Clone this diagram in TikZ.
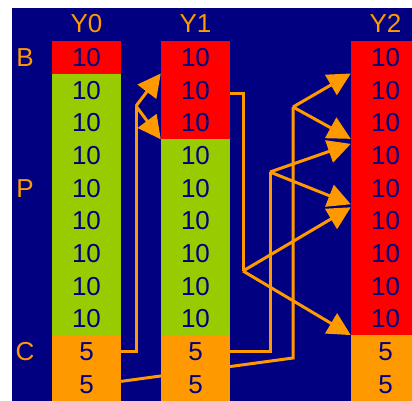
\documentclass[tikz,border=0pt]{standalone}
\usepackage{fontspec}
\setmainfont{Liberation Sans}
\usetikzlibrary{arrows.meta,backgrounds}
\definecolor{bgnavy}{HTML}{000080}
\definecolor{bred}{HTML}{FF0000}
\definecolor{pgreen}{HTML}{99CC00}
\definecolor{corange}{HTML}{FF9900}
\tikzset{
  cell/.style={rectangle, minimum width=69pt, minimum height=32.75pt, inner sep=0pt,
    text=bgnavy, font=\fontsize{26}{26}\selectfont},
  tag/.style={inner sep=0pt, text=corange, font=\fontsize{26}{26}\selectfont},
  flow/.style={draw=corange, line width=3pt},
  flowarrow/.style={flow, -{Triangle[length=23pt,width=23pt]}}
}
\begin{document}
\begin{tikzpicture}[x=1pt,y=-1pt]
  \useasboundingbox (0,0) rectangle (412,401);
  \clip (0,0) rectangle (412,401);
  % columns
  \foreach \col/\x/\nb in {y0/86.5/0, y1/195.5/2, y2/385.5/8} {
    \foreach \i in {0,...,8} {
      \ifnum\i>\nb \def\c{pgreen}\else\def\c{bred}\fi
      \node[cell, fill=\c] (\col-\i) at (\x,{57.35+32.7*\i}) {10};
    }
    \foreach \i in {9,10}
      \node[cell, fill=corange] (\col-\i) at (\x,{57.35+32.7*\i}) {5};
  }
  % headers and row tags
  \node[tag] (h0) at (86.5,23.5) {Y0};
  \node[tag] (h1) at (195.5,23.5) {Y1};
  \node[tag] (h2) at (385.5,23.5) {Y2};
  \node[tag] (tb) at (25,57.35) {B};
  \node[tag] (tp) at (25,188.15) {P};
  \node[tag] (tc) at (25,351.65) {C};
  % branch points
  \coordinate (j1) at (136,106);
  \coordinate (j2) at (293,107);
  \coordinate (j3) at (270,172);
  \coordinate (j4) at (243,271);
  \coordinate (k2) at (293,358);
  \begin{pgfonlayer}{background}
    \fill[bgnavy] (12,8) rectangle (412,401);
    \draw[flow] (y0-9.east) -| (j1);
    \draw[flowarrow] (j1) -- (y1-1.north west);
    \draw[flowarrow] (j1) -- (y1-2.south west);
    \draw[flow] ([yshift=3pt]y0-10.east) -- (k2) -- (j2);
    \draw[flowarrow] (j2) -- (y2-1.north west);
    \draw[flowarrow] (j2) -- (y2-3.north west);
    \draw[flow] (y1-9.east) -| (j3);
    \draw[flowarrow] (j3) -- ([yshift=-5pt]y2-3.north west);
    \draw[flowarrow] (j3) -- (y2-5.north west);
    \draw[flow] ([yshift=-3pt]y1-1.east) -| (j4);
    \draw[flowarrow] (j4) -- ([yshift=-3pt]y2-5.north west);
    \draw[flowarrow] (j4) -- (y2-9.north west);
  \end{pgfonlayer}
\end{tikzpicture}
\end{document}
